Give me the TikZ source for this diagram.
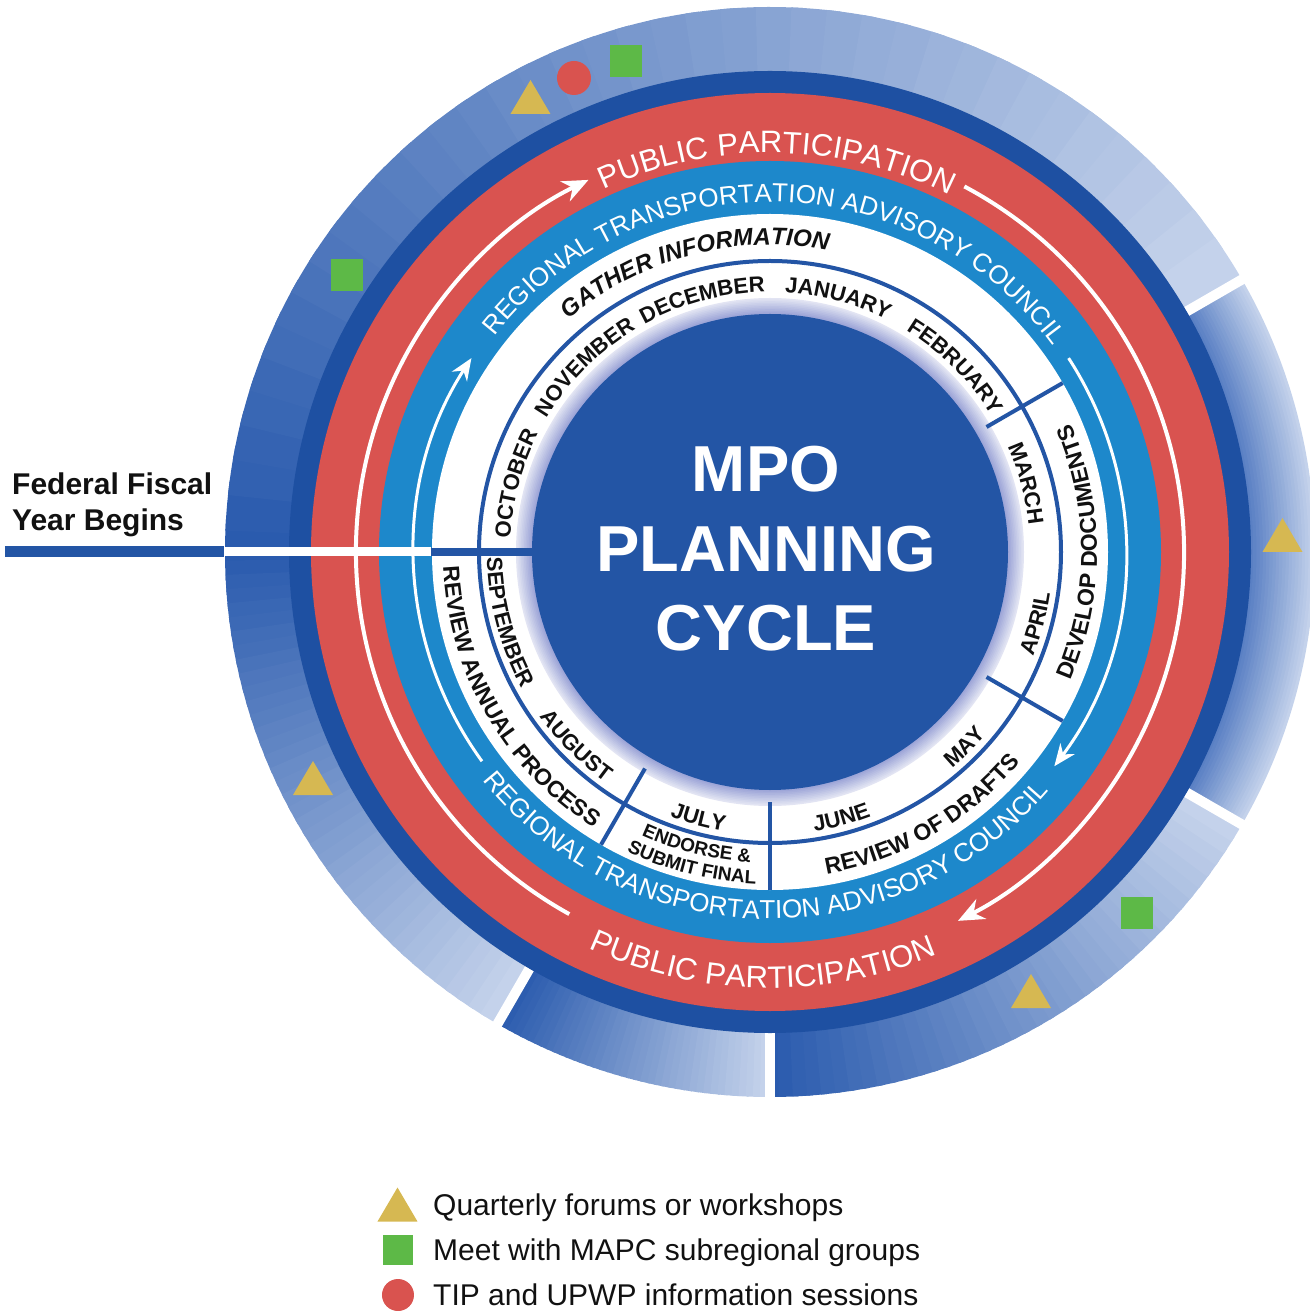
\documentclass[tikz,border=0pt]{standalone}
\usepackage{fontspec}
\setmainfont{Liberation Sans}
\usetikzlibrary{decorations.text,arrows.meta}
\definecolor{diskblue}{HTML}{2355A5}
\definecolor{ringblue}{HTML}{1E50A2}
\definecolor{rtacblue}{HTML}{1D88CB}
\definecolor{pubred}{HTML}{D95350}
\definecolor{segdark}{HTML}{2A5BAE}
\definecolor{seglight}{HTML}{C4D2EB}
\definecolor{segmid}{HTML}{5A80C4}
\definecolor{lav}{HTML}{9EA6D8}
\definecolor{gold}{HTML}{D6B852}
\definecolor{mkgreen}{HTML}{5DB947}
\definecolor{mkred}{HTML}{D9534F}
\definecolor{ink}{HTML}{111111}

\newcommand\mpMonthFont{\fontsize{22}{22}\selectfont\bfseries}
\newcommand\mpPhaseFont{\fontsize{23}{23}\selectfont\bfseries}
\newcommand\mpGatherFont{\fontsize{24}{24}\selectfont\bfseries\itshape}
\newcommand\mpSmallFont{\fontsize{19}{19}\selectfont\bfseries}
\newcommand\mpRtacFont{\fontsize{26}{26}\selectfont}
\newcommand\mpPubFont{\fontsize{31}{31}\selectfont}

\newcommand\mpTopText[4]{%
  \path[decorate,decoration={text along path,text align=center,text color=#3,text={#4}}]
    ({#1+85}:#2) arc[start angle={#1+85},end angle={#1-85},radius=#2];}
\newcommand\mpBotText[4]{%
  \path[decorate,decoration={text along path,text align=center,text color=#3,text={#4}}]
    ({#1-85}:#2) arc[start angle={#1-85},end angle={#1+85},radius=#2];}

\newcommand\mpSegA[2]{%
  \foreach \mpI in {0,...,39}{%
    \pgfmathsetmacro\mpA{#1+(#2-#1)*max(\mpI-0.4,0)/40}%
    \pgfmathsetmacro\mpB{#1+(#2-#1)*(\mpI+1)/40}%
    \pgfmathtruncatemacro\mpP{100*\mpI/39}%
    \fill[seglight!\mpP!segdark] (\mpA:480) arc[start angle=\mpA,end angle=\mpB,radius=480]
      -- (\mpB:545) arc[start angle=\mpB,end angle=\mpA,radius=545] -- cycle;
  }}

\tikzset{
  mktri/.pic={\fill[gold] (-20,-17) -- (20,-17) -- (0,17) -- cycle;},
  mksq/.pic={\fill[mkgreen] (-16,-16) rectangle (16,16);},
  mklegsq/.pic={\fill[mkgreen] (-15,-15) rectangle (15,15);},
  mkcirc/.pic={\fill[mkred] (0,0) circle[radius=17];},
  bigw/.style={inner sep=0pt,text=white,font=\fontsize{65}{65}\selectfont\bfseries,anchor=base},
  legtxt/.style={inner sep=0pt,text=ink,font=\fontsize{30}{30}\selectfont,anchor=base west},
  fedtxt/.style={inner sep=0pt,text=ink,font=\fontsize{30}{30}\selectfont\bfseries,anchor=base west}
}

\begin{document}
\begin{tikzpicture}[x=1pt,y=1pt]
\useasboundingbox (-770,-759) rectangle (539,552);

% outer segmented ring
\mpSegA{180}{30}
\mpSegA{180}{240}
\mpSegA{240}{270}
\mpSegA{270}{330}
\foreach \i in {0,...,19}{
  \pgfmathsetmacro\mpRa{480+65*\i/20}
  \pgfmathsetmacro\mpRb{min(480+65*(\i+1.4)/20,545)}
  \pgfmathtruncatemacro\mpP{100*\i/19}
  \fill[seglight!\mpP!segmid] (-30:\mpRa) arc[start angle=-30,end angle=30,radius=\mpRa]
    -- (30:\mpRb) arc[start angle=30,end angle=-30,radius=\mpRb] -- cycle;
}
\foreach \a in {30,-30,-90,-120}
  \draw[white,line width=10pt] (\a:481) -- (\a:552);

% main rings
\fill[ringblue] (0,0) circle[radius=481];
\fill[pubred] (0,0) circle[radius=459];
\fill[rtacblue] (0,0) circle[radius=391];
\fill[white] (0,0) circle[radius=338];
\foreach \i in {0,...,9}{
  \pgfmathsetmacro\mpR{254-1.6*\i}
  \pgfmathtruncatemacro\mpP{30+\i*7.8}
  \fill[lav!\mpP!white] (0,0) circle[radius=\mpR];
}
\fill[diskblue] (0,0) circle[radius=238];

% ring dividers
\draw[diskblue,line width=4pt] (0,0) circle[radius=291];
\foreach \a in {30,-30,-90,-120}
  \draw[diskblue,line width=4pt] (\a:250) -- (\a:338);

% white flow arrows
\draw[white,line width=4pt,-{Stealth[length=26pt,width=22pt]}] (241:414) arc[start angle=241,end angle=116,radius=414];
\draw[white,line width=4pt,-{Stealth[length=26pt,width=22pt]}] (62:414) arc[start angle=62,end angle=-63,radius=414];
\draw[white,line width=3pt,-{Stealth[length=22pt,width=18pt]}] (216:356) arc[start angle=216,end angle=147,radius=356];
\draw[white,line width=3pt,-{Stealth[length=22pt,width=18pt]}] (33:356) arc[start angle=33,end angle=-37,radius=356];

% fiscal year line
\draw[diskblue,line width=11pt] (-765,0) -- (-546,0);
\draw[white,line width=9pt] (-546,0) -- (-339,0);
\draw[diskblue,line width=8pt] (-339,0) -- (-236,0);

% months
\mpTopText{165}{260}{ink}{|\mpMonthFont|OCTOBER}
\mpTopText{135}{260}{ink}{|\mpMonthFont|NOVEMBER}
\mpTopText{105}{260}{ink}{|\mpMonthFont|DECEMBER}
\mpTopText{75}{260}{ink}{|\mpMonthFont|JANUARY}
\mpTopText{45}{260}{ink}{|\mpMonthFont|FEBRUARY}
\mpTopText{15}{260}{ink}{|\mpMonthFont|MARCH}
\mpBotText{-15}{283}{ink}{|\mpMonthFont|APRIL}
\mpBotText{-45}{283}{ink}{|\mpMonthFont|MAY}
\mpBotText{-75}{283}{ink}{|\mpMonthFont|JUNE}
\mpBotText{-105}{283}{ink}{|\mpMonthFont|JULY}
\mpBotText{-135}{283}{ink}{|\mpMonthFont|AUGUST}
\mpBotText{-165}{283}{ink}{|\mpMonthFont|SEPTEMBER}

% phases
\mpTopText{105}{307}{ink}{|\mpGatherFont|GATHER INFORMATION}
\mpBotText{0}{327}{ink}{|\mpPhaseFont|DEVELOP DOCUMENTS}
\mpBotText{-60}{327}{ink}{|\mpPhaseFont|REVIEW OF DRAFTS}
\mpBotText{-150}{327}{ink}{|\mpPhaseFont|REVIEW ANNUAL PROCESS}
\mpBotText{-104}{311}{ink}{|\mpSmallFont|ENDORSE {\&}}
\mpBotText{-104}{332}{ink}{|\mpSmallFont|SUBMIT FINAL}

% ring labels
\mpTopText{89}{350}{white}{|\mpRtacFont|REGIONAL TRANSPORTATION ADVISORY COUNCIL}
\mpBotText{-91}{367}{white}{|\mpRtacFont|REGIONAL TRANSPORTATION ADVISORY COUNCIL}
\mpTopText{89}{399}{white}{|\mpPubFont|PUBLIC PARTICIPATION}
\mpBotText{-91}{436}{white}{|\mpPubFont|PUBLIC PARTICIPATION}

% centre title
\node[bigw] (mpo) at (-4,60) {MPO};
\node[bigw] (planning) at (-4,-20) {PLANNING};
\node[bigw] (cycle) at (-4,-98) {CYCLE};

% fiscal year label
\node[fedtxt] (fed1) at (-758,57) {Federal Fiscal};
\node[fedtxt] (fed2) at (-758,21) {Year Begins};

% markers
\pic at (-239.5,455) {mktri};
\pic at (-196,474) {mkcirc};
\pic at (-144,491) {mksq};
\pic at (-423,277) {mksq};
\pic at (512.5,17) {mktri};
\pic at (-457,-226) {mktri};
\pic at (367,-361) {mksq};
\pic at (261,-439) {mktri};

% legend
\pic at (-372.5,-652.5) {mktri};
\pic at (-372,-698) {mklegsq};
\fill[mkred] (-372,-743) circle[radius=16];
\node[legtxt] (leg1) at (-337,-663.5) {Quarterly forums or workshops};
\node[legtxt] (leg2) at (-337,-708.5) {Meet with MAPC subregional groups};
\node[legtxt] (leg3) at (-337,-753.5) {TIP and UPWP information sessions};
\end{tikzpicture}
\end{document}
